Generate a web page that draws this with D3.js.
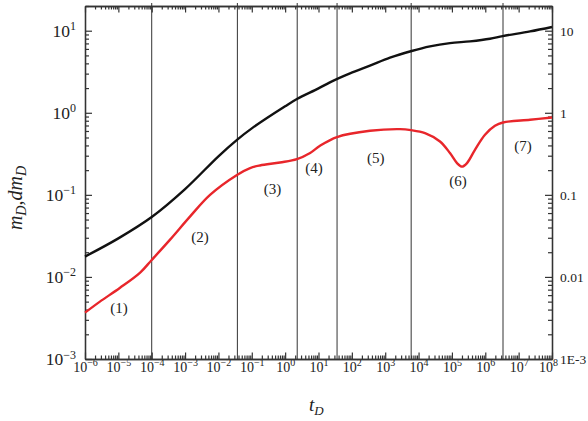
<!DOCTYPE html>
<html>
<head>
<meta charset="utf-8">
<script src="https://cdn.jsdelivr.net/npm/d3@7"></script>
<style>
  body { margin: 0; background: #fff; }
  svg text { font-family: "Liberation Serif", "DejaVu Serif", serif; fill: #222; }
</style>
</head>
<body>
<div id="chart"></div>
<script>
// m_D curve (black)
var mTime = [1e-6, 1e-5, 1e-4, 1e-3, 1e-2, 0.036, 0.1, 1, 2.26, 10, 22, 88, 349, 1390,
             6210, 22000, 87300, 3.48e5, 1.38e6, 3.32e6, 2.2e7, 1e8];
var mD    = [0.0177, 0.0295, 0.0537, 0.1175, 0.295, 0.468, 0.646, 1.20, 1.47, 1.98, 2.35, 3.02, 3.75, 4.69,
             5.66, 6.44, 7.06, 7.42, 7.98, 8.6, 9.8, 11.1];

// dm_D curve (red)
var dmTime = [1e-6, 2.8e-6, 1.1e-5, 4.5e-5, 1.0e-4, 3.5e-4, 1.4e-3, 5.6e-3, 0.036, 0.089, 0.176,
              0.70, 2.26, 5.6, 11.1, 35.8, 349, 2770, 5920, 15600, 43900, 87300, 1.42e5,
              2.0e5, 2.83e5, 4.9e5, 9.8e5, 1.95e6, 3.4e6, 2.2e7, 1e8];
var dmD    = [0.00367, 0.0050, 0.00734, 0.0113, 0.0161, 0.0283, 0.0543, 0.100, 0.175, 0.212, 0.228,
              0.248, 0.272, 0.323, 0.396, 0.506, 0.603, 0.632, 0.615, 0.565, 0.447, 0.323, 0.244,
              0.221, 0.244, 0.354, 0.540, 0.693, 0.762, 0.822, 0.877];

// flow regime boundaries
var regimeBounds = [1.0e-4, 0.037, 2.3, 36, 6000, 3.4e6];

// regime labels
var regimeNames = ["(1)", "(2)", "(3)", "(4)", "(5)", "(6)", "(7)"];
var regimeTime  = [1.05e-5, 2.8e-3, 0.42, 7.3, 518, 1.52e5, 1.35e7];
var regimeVal   = [0.0042, 0.0308, 0.118, 0.213, 0.282, 0.149, 0.399];

var xTicks = d3.range(-6, 9).map(function(e) { return Math.pow(10, e); });
var yTicks = [1e-3, 1e-2, 1e-1, 1, 10];
var yRightLabels = ["1E-3", "0.01", "0.1", "1", "10"];

var W = 588, H = 421;
var pL = 85, pR = 552, pT = 6, pB = 359;

var svg = d3.select("#chart").append("svg")
    .attr("width", W)
    .attr("height", H);

var x = d3.scaleLog().domain([1e-6, 1e8]).range([pL, pR]);
var y = d3.scaleLog().domain([1e-3, 20]).range([pB, pT]);

function minors(lo, hi) {
    var out = [];
    for (var e = lo; e < hi; e++)
        for (var k = 2; k <= 9; k++) out.push(k * Math.pow(10, e));
    return out;
}
var xMinor = minors(-6, 8);
var yMinor = minors(-3, 2).filter(function(v) { return v <= 20; });

function sup(sel, base, size) {
    sel.each(function(d) {
        var e = Math.round(Math.log10(d));
        var t = d3.select(this).text(base);
        t.append("tspan")
            .attr("dy", -size * 0.55)
            .attr("font-size", size)
            .text(e < 0 ? "\u2212" + (-e) : e);
    });
}

function styleAxis(g) {
    g.selectAll("path, line").attr("stroke", "#333").attr("stroke-width", 1.2);
}

// regime boundaries
svg.append("g").selectAll("line")
    .data(regimeBounds)
    .enter().append("line")
    .attr("x1", function(d) { return x(d); })
    .attr("x2", function(d) { return x(d); })
    .attr("y1", pT - 3)
    .attr("y2", pB)
    .attr("stroke", "#333")
    .attr("stroke-width", 1);

// bottom axis
var gx = svg.append("g").attr("transform", "translate(0," + pB + ")")
    .call(d3.axisBottom(x).tickValues(xTicks).tickSize(-6.5).tickSizeOuter(0).tickPadding(3)
        .tickFormat(function() { return ""; }));
gx.selectAll("text").attr("font-size", 14).call(sup, "10", 10);
// last label nudged left so it clears the right-axis "1E-3"
gx.selectAll("text").filter(function(d) { return d === 1e8; }).attr("dx", -4);
gx.append("g").call(d3.axisBottom(x).tickValues(xMinor).tickSize(-3.5).tickSizeOuter(0)
    .tickFormat(function() { return ""; }));
gx.call(styleAxis);

// top axis
var gt = svg.append("g").attr("transform", "translate(0," + pT + ")")
    .call(d3.axisTop(x).tickValues(xTicks).tickSize(-6.5).tickSizeOuter(0).tickFormat(function() { return ""; }));
gt.append("g").call(d3.axisTop(x).tickValues(xMinor).tickSize(-3.5).tickSizeOuter(0)
    .tickFormat(function() { return ""; }));
gt.call(styleAxis);

// left axis
var gy = svg.append("g").attr("transform", "translate(" + pL + ",0)")
    .call(d3.axisLeft(y).tickValues(yTicks).tickSize(-7).tickSizeOuter(0).tickPadding(9)
        .tickFormat(function() { return ""; }));
gy.selectAll("text").attr("font-size", 17.5).call(sup, "10", 12);
gy.append("g").call(d3.axisLeft(y).tickValues(yMinor).tickSize(-4).tickSizeOuter(0)
    .tickFormat(function() { return ""; }));
gy.call(styleAxis);

// right axis
var gr = svg.append("g").attr("transform", "translate(" + pR + ",0)")
    .call(d3.axisRight(y).tickValues(yTicks).tickSize(-7).tickSizeOuter(0).tickPadding(8)
        .tickFormat(function(d, i) { return yRightLabels[i]; }));
gr.selectAll("text").attr("font-size", 13.5);
gr.append("g").call(d3.axisRight(y).tickValues(yMinor).tickSize(-4).tickSizeOuter(0)
    .tickFormat(function() { return ""; }));
gr.call(styleAxis);
svg.selectAll(".domain").attr("stroke", "#333").attr("stroke-width", 1.3);

// curves
var line = d3.line()
    .x(function(d) { return x(d[0]); })
    .y(function(d) { return y(d[1]); })
    .curve(d3.curveCatmullRom.alpha(0.5));

svg.append("path")
    .datum(d3.zip(mTime, mD))
    .attr("fill", "none")
    .attr("stroke", "#111")
    .attr("stroke-width", 2.4)
    .attr("d", line);

svg.append("path")
    .datum(d3.zip(dmTime, dmD))
    .attr("fill", "none")
    .attr("stroke", "#e8262b")
    .attr("stroke-width", 2.4)
    .attr("d", line);

// regime labels
svg.append("g").selectAll("text")
    .data(regimeNames)
    .enter().append("text")
    .attr("x", function(d, i) { return x(regimeTime[i]); })
    .attr("y", function(d, i) { return y(regimeVal[i]); })
    .attr("dy", "0.35em")
    .attr("text-anchor", "middle")
    .attr("font-size", 15)
    .text(function(d) { return d; });

// axis titles
var xt = svg.append("text")
    .attr("x", 309)
    .attr("y", 411)
    .attr("font-size", 19)
    .attr("font-style", "italic");
xt.append("tspan").text("t");
xt.append("tspan").attr("dy", 4).attr("font-size", 13).text("D");

var yt = svg.append("text")
    .attr("transform", "translate(22,198) rotate(-90)")
    .attr("text-anchor", "middle")
    .attr("font-size", 20)
    .attr("font-style", "italic");
yt.append("tspan").text("m");
yt.append("tspan").attr("dy", 4).attr("font-size", 14).text("D");
yt.append("tspan").attr("dy", -4).text(",dm");
yt.append("tspan").attr("dy", 4).attr("font-size", 14).text("D");
</script>
</body>
</html>
